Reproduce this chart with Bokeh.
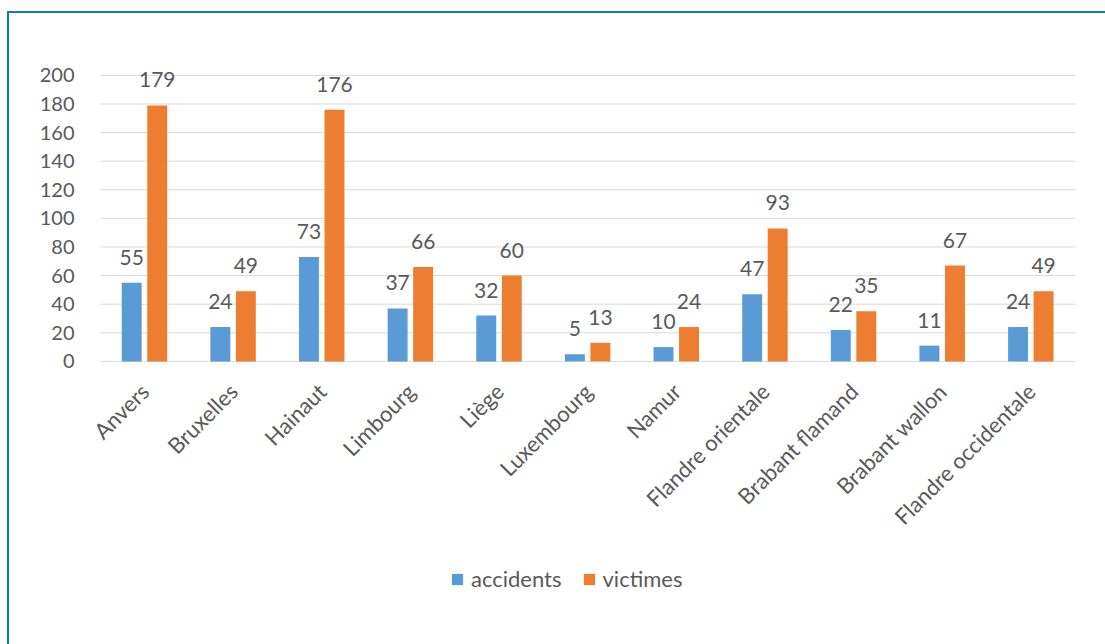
from bokeh.plotting import figure
from bokeh.models import ColumnDataSource, FactorRange, Range1d, Legend, LegendItem, LabelSet, InlineStyleSheet
from bokeh.core.properties import value
from bokeh.transform import dodge
from bokeh.embed import file_html
from bokeh.resources import INLINE
import math

provinces = ["Anvers", "Bruxelles", "Hainaut", "Limbourg", "Liège", "Luxembourg",
             "Namur", "Flandre orientale", "Brabant flamand", "Brabant wallon",
             "Flandre occidentale"]
accidents = [55, 24, 73, 37, 32, 5, 10, 47, 22, 11, 24]
victimes = [179, 49, 176, 66, 60, 13, 24, 93, 35, 67, 49]
y_ticks = [0, 20, 40, 60, 80, 100, 120, 140, 160, 180, 200]

BLUE = "#5B9BD5"
ORANGE = "#ED7D31"
TXT = "#595959"
GRID = "#D9D9D9"
FONT = "Lato"

src = ColumnDataSource(dict(prov=provinces, acc=accidents, vic=victimes,
                            acc_s=[str(v) for v in accidents],
                            vic_s=[str(v) for v in victimes]))
grid_src = ColumnDataSource(dict(y=y_ticks,
                                 first=[provinces[0]] * len(y_ticks),
                                 last=[provinces[-1]] * len(y_ticks)))

border_css = InlineStyleSheet(css=""":host::after {content:''; position:absolute; left:7px; top:11px; right:0; bottom:0;
 border-left:2px solid #0E7FA0; border-top:2px solid #0E7FA0; pointer-events:none;}""")

p = figure(width=1105, height=644, output_backend="svg", toolbar_location=None,
           x_range=FactorRange(*provinces, range_padding=0.1128, range_padding_units="absolute"),
           y_range=Range1d(-198, 224.4),
           min_border_left=90, min_border_right=20, min_border_top=40, min_border_bottom=0,
           stylesheets=[border_css])
p.outline_line_color = None
p.background_fill_color = "white"
p.border_fill_color = "white"

# horizontal gridlines limited to the category extent
p.segment(x0=dodge("first", -0.5, range=p.x_range), x1=dodge("last", 0.5, range=p.x_range),
          y0="y", y1="y", source=grid_src, line_color=GRID, line_width=1)

r1 = p.vbar(x=dodge("prov", -0.148, range=p.x_range), top="acc", width=0.225, source=src,
            fill_color=BLUE, line_color=None)
r2 = p.vbar(x=dodge("prov", 0.14, range=p.x_range), top="vic", width=0.225, source=src,
            fill_color=ORANGE, line_color=None)

for col, lab, off in (("acc", "acc_s", -0.148), ("vic", "vic_s", 0.14)):
    ls = LabelSet(x=dodge("prov", off, range=p.x_range), y=col, text=lab, source=src,
                  text_align="center", text_baseline="bottom", y_offset=18,
                  text_font=value(FONT), text_font_size="21px", text_color=TXT)
    p.add_layout(ls)

p.xgrid.grid_line_color = None
p.ygrid.grid_line_color = None
p.yaxis.ticker = y_ticks
p.yaxis.axis_line_color = None
p.yaxis.major_tick_line_color = None
p.yaxis.minor_tick_line_color = None
p.yaxis.major_label_standoff = 10
p.yaxis.major_label_text_font = FONT
p.yaxis.major_label_text_font_size = "20px"
p.yaxis.major_label_text_color = TXT

p.xaxis.fixed_location = 0
p.xaxis.axis_line_color = None
p.xaxis.major_tick_line_color = None
p.xaxis.minor_tick_line_color = None
p.xaxis.major_label_orientation = math.pi / 4
p.xaxis.major_label_standoff = 20
p.xaxis.major_label_text_font = FONT
p.xaxis.major_label_text_font_size = "22px"
p.xaxis.major_label_text_color = TXT

legend = Legend(items=[LegendItem(label="accidents", renderers=[r1]),
                       LegendItem(label="victimes", renderers=[r2])],
                orientation="horizontal", location=(360, 52),
                label_text_font=FONT, label_text_font_size="22px", label_text_color=TXT,
                glyph_width=14, glyph_height=14, spacing=20, label_standoff=7,
                padding=0, margin=0,
                border_line_color=None, background_fill_alpha=0)
p.add_layout(legend, "center")

open("out.html", "w").write(file_html(p, INLINE))
